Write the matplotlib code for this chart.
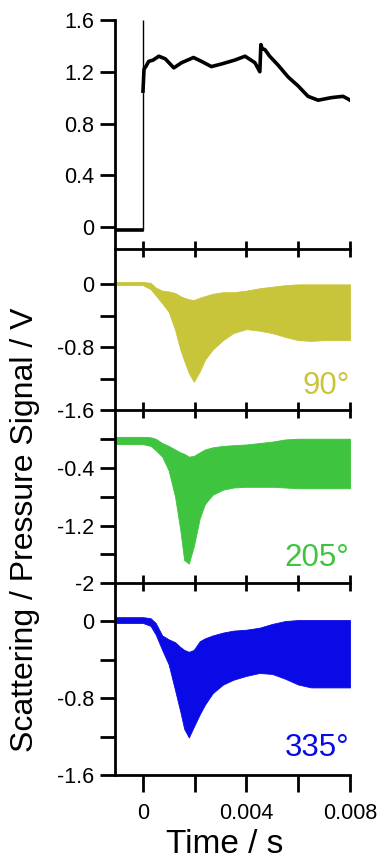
import matplotlib
matplotlib.use('Agg')
import matplotlib.pyplot as plt
from matplotlib.ticker import FixedLocator, FixedFormatter

plt.rcParams.update({
    'font.family': ['Liberation Sans', 'DejaVu Sans'],
    'axes.unicode_minus': False,
})

# ---- data ----
# pressure trace (top panel)
pre_t = [-0.00107, -0.0005, -0.00002]
pre_v = [-0.02, -0.02, -0.02]
spike_t, spike_lo, spike_hi = 0.0, -0.02, 1.6
post_t = [0.00001, 0.00005, 0.00012, 0.00023, 0.0004, 0.00062, 0.00087, 0.0012,
          0.0015, 0.00196, 0.00227, 0.00265, 0.00304, 0.00355, 0.00395, 0.00433,
          0.00452, 0.00456, 0.00461, 0.00472, 0.0049, 0.00523, 0.00561, 0.006,
          0.00638, 0.00677, 0.00728, 0.00773, 0.00792, 0.008]
post_v = [1.05, 1.22, 1.24, 1.28, 1.29, 1.32, 1.30, 1.23, 1.27, 1.31, 1.28, 1.24,
          1.26, 1.29, 1.32, 1.27, 1.20, 1.41, 1.38, 1.37, 1.32, 1.25, 1.16, 1.09,
          1.01, 0.98, 1.00, 1.01, 0.99, 0.98]

# scattering envelopes (upper / lower edge of the oscillating signal)
t_env = [-0.00107, 0.0, 0.0003, 0.0005, 0.00075, 0.001, 0.00125, 0.00145, 0.0016,
         0.00178, 0.00197, 0.0022, 0.0024, 0.0027, 0.0031, 0.0035, 0.004, 0.0045,
         0.005, 0.0055, 0.006, 0.0065, 0.007, 0.0075, 0.008]
hi_90 = [0.03, 0.03, 0.02, -0.04, -0.08, -0.09, -0.11, -0.15, -0.17, -0.19, -0.20,
         -0.17, -0.15, -0.12, -0.10, -0.10, -0.08, -0.05, -0.03, -0.01, 0.0, 0.0,
         0.0, 0.0, 0.0]
lo_90 = [-0.01, -0.01, -0.06, -0.14, -0.24, -0.35, -0.58, -0.83, -0.97, -1.13,
         -1.24, -1.11, -0.96, -0.83, -0.71, -0.62, -0.57, -0.59, -0.62, -0.67,
         -0.71, -0.72, -0.71, -0.71, -0.71]
hi_205 = [0.036, 0.036, 0.03, 0.01, -0.05, -0.09, -0.14, -0.18, -0.20, -0.24,
          -0.23, -0.18, -0.14, -0.11, -0.09, -0.08, -0.07, -0.05, -0.03, 0.0,
          0.01, 0.01, 0.01, 0.01, 0.01]
lo_205 = [-0.065, -0.065, -0.09, -0.15, -0.24, -0.43, -0.80, -1.26, -1.68, -1.73,
          -1.49, -1.10, -0.90, -0.77, -0.70, -0.67, -0.66, -0.66, -0.66, -0.67,
          -0.68, -0.68, -0.68, -0.68, -0.68]
hi_335 = [0.04, 0.04, 0.03, -0.02, -0.15, -0.19, -0.22, -0.27, -0.30, -0.32,
          -0.30, -0.21, -0.18, -0.15, -0.12, -0.10, -0.09, -0.07, -0.03, 0.0,
          0.01, 0.01, 0.01, 0.01, 0.01]
lo_335 = [-0.02, -0.02, -0.05, -0.14, -0.30, -0.45, -0.72, -0.94, -1.12, -1.21,
          -1.10, -0.97, -0.87, -0.75, -0.66, -0.61, -0.57, -0.54, -0.55, -0.60,
          -0.66, -0.69, -0.69, -0.69, -0.69]

angles = ['90°', '205°', '335°']
colors = ['#c8c53a', '#3ec43e', '#0a0ae6']

W, H = 381, 860
fig = plt.figure(figsize=(W / 100, H / 100), dpi=100, facecolor='white')

def px_axes(top, bottom):
    return fig.add_axes([115 / W, 1 - bottom / H, (350 - 115) / W, (bottom - top) / H])

ax1 = px_axes(20, 249)
ax2 = px_axes(249, 410)
ax3 = px_axes(410, 583)
ax4 = px_axes(583, 775)
axes = [ax1, ax2, ax3, ax4]

# top: pressure
ax1.plot(pre_t, pre_v, color='black', lw=2.6, solid_joinstyle='round')
ax1.plot(post_t, post_v, color='black', lw=2.6, solid_joinstyle='round')
ax1.vlines(spike_t, spike_lo, spike_hi, color='black', lw=1.0)
ax1.set_ylim(-0.17, 1.6)
ax1.yaxis.set_major_locator(FixedLocator([0, 0.4, 0.8, 1.2, 1.6]))
ax1.yaxis.set_major_formatter(FixedFormatter(['0', '0.4', '0.8', '1.2', '1.6']))

envs = [(hi_90, lo_90), (hi_205, lo_205), (hi_335, lo_335)]
for ax, (hi, lo), c in zip([ax2, ax3, ax4], envs, colors):
    ax.fill_between(t_env, lo, hi, color=c, lw=0.6, edgecolor=c)

ax2.set_ylim(-1.6, 0.45)
ax2.yaxis.set_major_locator(FixedLocator([0, -0.8, -1.6]))
ax2.yaxis.set_major_formatter(FixedFormatter(['0', '-0.8', '-1.6']))
ax2.yaxis.set_minor_locator(FixedLocator([-0.4, -1.2]))

ax3.set_ylim(-2.0, 0.41)
ax3.yaxis.set_major_locator(FixedLocator([-0.4, -1.2, -2.0]))
ax3.yaxis.set_major_formatter(FixedFormatter(['-0.4', '-1.2', '-2']))
ax3.yaxis.set_minor_locator(FixedLocator([0, -0.8, -1.6]))

ax4.set_ylim(-1.6, 0.395)
ax4.yaxis.set_major_locator(FixedLocator([0, -0.8, -1.6]))
ax4.yaxis.set_major_formatter(FixedFormatter(['0', '-0.8', '-1.6']))
ax4.yaxis.set_minor_locator(FixedLocator([-0.4, -1.2]))

for ax in axes:
    ax.set_xlim(-0.00107, 0.008)
    ax.set_facecolor('none')
    for s in ['top', 'right']:
        ax.spines[s].set_visible(False)
    for s in ['left', 'bottom']:
        ax.spines[s].set_linewidth(2.0)
    ax.xaxis.set_major_locator(FixedLocator([0, 0.002, 0.004, 0.006, 0.008]))
    ax.tick_params(axis='y', which='both', direction='out', length=11, width=2.0,
                   labelsize=15.5, pad=4)
    ax.tick_params(axis='x', which='both', direction='inout', length=12, width=2.0,
                   labelbottom=False)

ax4.xaxis.set_major_formatter(FixedFormatter(['0', '', '0.004', '', '0.008']))
ax4.tick_params(axis='x', direction='out', length=12, labelbottom=True,
                labelsize=15.5, pad=8)

# angle labels
for ax, lab, c in zip([ax2, ax3, ax4], angles, colors):
    ax.text(0.998, 0.1, lab, transform=ax.transAxes, ha='right', va='baseline',
            fontsize=22.5, color=c)

fig.text(25 / W, 1 - 530 / H, 'Scattering / Pressure Signal / V', rotation=90,
         ha='center', va='center', fontsize=23)
fig.text(225 / W, 1 - 853 / H, 'Time / s', ha='center', va='baseline', fontsize=24)

fig.savefig('out.png', dpi=100, facecolor='white')
